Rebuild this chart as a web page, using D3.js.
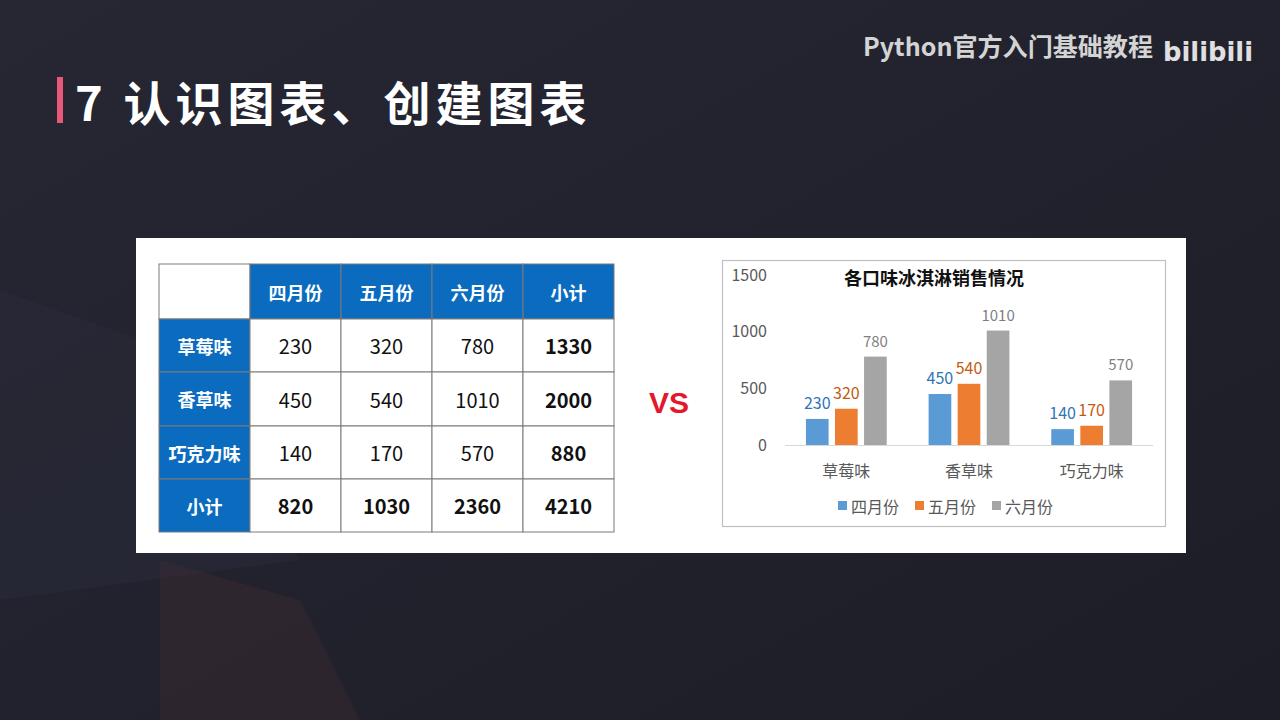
<!DOCTYPE html>
<html><head><meta charset="utf-8">
<script src="https://cdn.jsdelivr.net/npm/d3@7"></script>
<style>
html,body{margin:0;padding:0;background:#20212b;}
svg{display:block;}
</style></head>
<body>
<svg id="c" width="1280" height="720"></svg>
<script>
const flavors = ["草莓味", "香草味", "巧克力味"];
const months = ["四月份", "五月份", "六月份"];
const april = [230, 450, 140];
const may = [320, 540, 170];
const june = [780, 1010, 570];
const yTicks = [0, 500, 1000, 1500];
const totalLabel = "小计";
const chartTitle = "各口味冰淇淋销售情况";

const series = [april, may, june];
const barColors = ["#5b9bd5", "#ed7d31", "#a5a5a5"];
const labelColors = ["#2e75b6", "#c55a11", "#7f7f7f"];
const font = "'Noto Sans CJK SC', 'Noto Sans', sans-serif";

const svg = d3.select("#c");
const defs = svg.append("defs");
const bg = defs.append("linearGradient").attr("id","bg").attr("x1","0").attr("y1","0").attr("x2","1").attr("y2","1");
bg.append("stop").attr("offset","0").attr("stop-color","#262733");
bg.append("stop").attr("offset","1").attr("stop-color","#1c1d26");
svg.append("rect").attr("width",1280).attr("height",720).attr("fill","url(#bg)");
svg.append("path").attr("d","M0,290 L170,350 L300,560 L0,600 Z").attr("fill","#2a2a38").attr("opacity",0.6);
svg.append("path").attr("d","M160,560 L300,600 L360,720 L160,720 Z").attr("fill","#3a2a30").attr("opacity",0.5);

// header
svg.append("rect").attr("x",57).attr("y",77).attr("width",6).attr("height",46).attr("fill","#e9577a");
svg.append("text").attr("x",75).attr("y",121).attr("fill","#ffffff").attr("font-family",font)
  .attr("font-weight","bold").attr("font-size",47).attr("letter-spacing",5).text("7 认识图表、创建图表");
svg.append("text").attr("x",863).attr("y",56).attr("fill","#d4d4d4").attr("font-family",font)
  .attr("font-weight","bold").attr("font-size",25).attr("textLength",290).attr("lengthAdjust","spacingAndGlyphs")
  .text("Python官方入门基础教程");
svg.append("text").attr("x",1163).attr("y",61).attr("fill","#e0e0e0").attr("font-family","'DejaVu Sans', sans-serif")
  .attr("font-weight","bold").attr("font-size",26).attr("textLength",90).attr("lengthAdjust","spacingAndGlyphs").text("bilibili");

// white panel
svg.append("rect").attr("x",136).attr("y",238).attr("width",1050).attr("height",315).attr("fill","#ffffff");

// ---- table ----
const tX = 159, tY = 264;
const colW = [91, 91, 91, 91, 91];
const rowH = [55, 53, 54, 53, 53];
const colX = [tX]; colW.forEach((w,i)=>colX.push(colX[i]+w));
const rowY = [tY]; rowH.forEach((h,i)=>rowY.push(rowY[i]+h));
const blue = "#0b6cbf";
const tbl = svg.append("g");
const rowTotals = flavors.map((f,i)=>april[i]+may[i]+june[i]);
const colTotals = series.map(s=>d3.sum(s));
const grand = d3.sum(rowTotals);
const header = ["", ...months, totalLabel];
const rows = [header];
flavors.forEach((f,i)=>rows.push([f, april[i], may[i], june[i], rowTotals[i]]));
rows.push([totalLabel, ...colTotals, grand]);
rows.forEach((r,ri)=>{
  r.forEach((v,ci)=>{
    const isBlue = (ri===0 && ci>0) || (ci===0 && ri>0);
    tbl.append("rect").attr("x",colX[ci]).attr("y",rowY[ri]).attr("width",colW[ci]).attr("height",rowH[ri])
      .attr("fill", isBlue ? blue : "#ffffff").attr("stroke","#7a7a7a").attr("stroke-width",1);
    const bold = isBlue || ci===4 || ri===4;
    tbl.append("text").attr("x",colX[ci]+colW[ci]/2).attr("y",rowY[ri]+rowH[ri]/2)
      .attr("text-anchor","middle").attr("dominant-baseline","central")
      .attr("font-family",font).attr("font-size",isBlue?18:20)
      .attr("font-weight",bold?"bold":"normal")
      .attr("fill",isBlue?"#ffffff":"#111111").text(v);
  });
});

// VS
svg.append("text").attr("x",669).attr("y",402).attr("text-anchor","middle").attr("dominant-baseline","central")
  .attr("font-family","'Liberation Sans', Arial, sans-serif").attr("font-weight","bold").attr("font-size",30)
  .attr("fill","#e3182b").text("VS");

// ---- chart ----
svg.append("rect").attr("x",722.5).attr("y",260.5).attr("width",443).attr("height",266)
  .attr("fill","#ffffff").attr("stroke","#bfbfbf").attr("stroke-width",1.2);
svg.append("text").attr("x",934).attr("y",277).attr("text-anchor","middle").attr("dominant-baseline","central")
  .attr("font-family",font).attr("font-weight","bold").attr("font-size",18).attr("fill","#111").text(chartTitle);

const y = d3.scaleLinear().domain([0,1500]).range([445,275]);
const x0 = d3.scaleBand().domain(flavors).range([785,1153]).paddingInner(0).paddingOuter(0);
const x1 = d3.scaleBand().domain(months).range([0,x0.bandwidth()]).paddingInner(0.22).paddingOuter(0.72);

const yAxis = d3.axisLeft(y).tickValues(yTicks).tickFormat(d3.format("d")).tickSize(0).tickPadding(0);
const ya = svg.append("g").attr("transform","translate(767,0)").call(yAxis);
ya.select(".domain").remove();
ya.selectAll("text").attr("font-family",font).attr("font-size",16).attr("fill","#595959");

svg.append("line").attr("x1",785).attr("x2",1153).attr("y1",y(0)+0.5).attr("y2",y(0)+0.5)
  .attr("stroke","#d9d9d9").attr("stroke-width",1);

const g = svg.append("g");
flavors.forEach((f,fi)=>{
  months.forEach((m,mi)=>{
    const v = series[mi][fi];
    const bx = x0(f)+x1(m);
    g.append("rect").attr("x",bx).attr("y",y(v)).attr("width",x1.bandwidth()).attr("height",y(0)-y(v))
      .attr("fill",barColors[mi]);
    g.append("text").attr("x",bx+x1.bandwidth()/2).attr("y",y(v)-10).attr("text-anchor","middle")
      .attr("font-family",font).attr("font-size",mi===2?15:16).attr("fill",labelColors[mi]).text(v);
  });
});

const xAxis = d3.axisBottom(x0).tickSize(0).tickPadding(0);
const xa = svg.append("g").attr("transform","translate(0,462)").call(xAxis);
xa.select(".domain").remove();
xa.selectAll("text").attr("font-family",font).attr("font-size",16).attr("fill","#595959").attr("dy","0.35em").attr("y",9);

// legend
const legX = [838, 915, 992];
months.forEach((m,i)=>{
  svg.append("rect").attr("x",legX[i]).attr("y",501).attr("width",9).attr("height",9).attr("fill",barColors[i]);
  svg.append("text").attr("x",legX[i]+13).attr("y",506).attr("dominant-baseline","central")
    .attr("font-family",font).attr("font-size",16).attr("fill","#595959").text(m);
});
</script>
</body></html>
